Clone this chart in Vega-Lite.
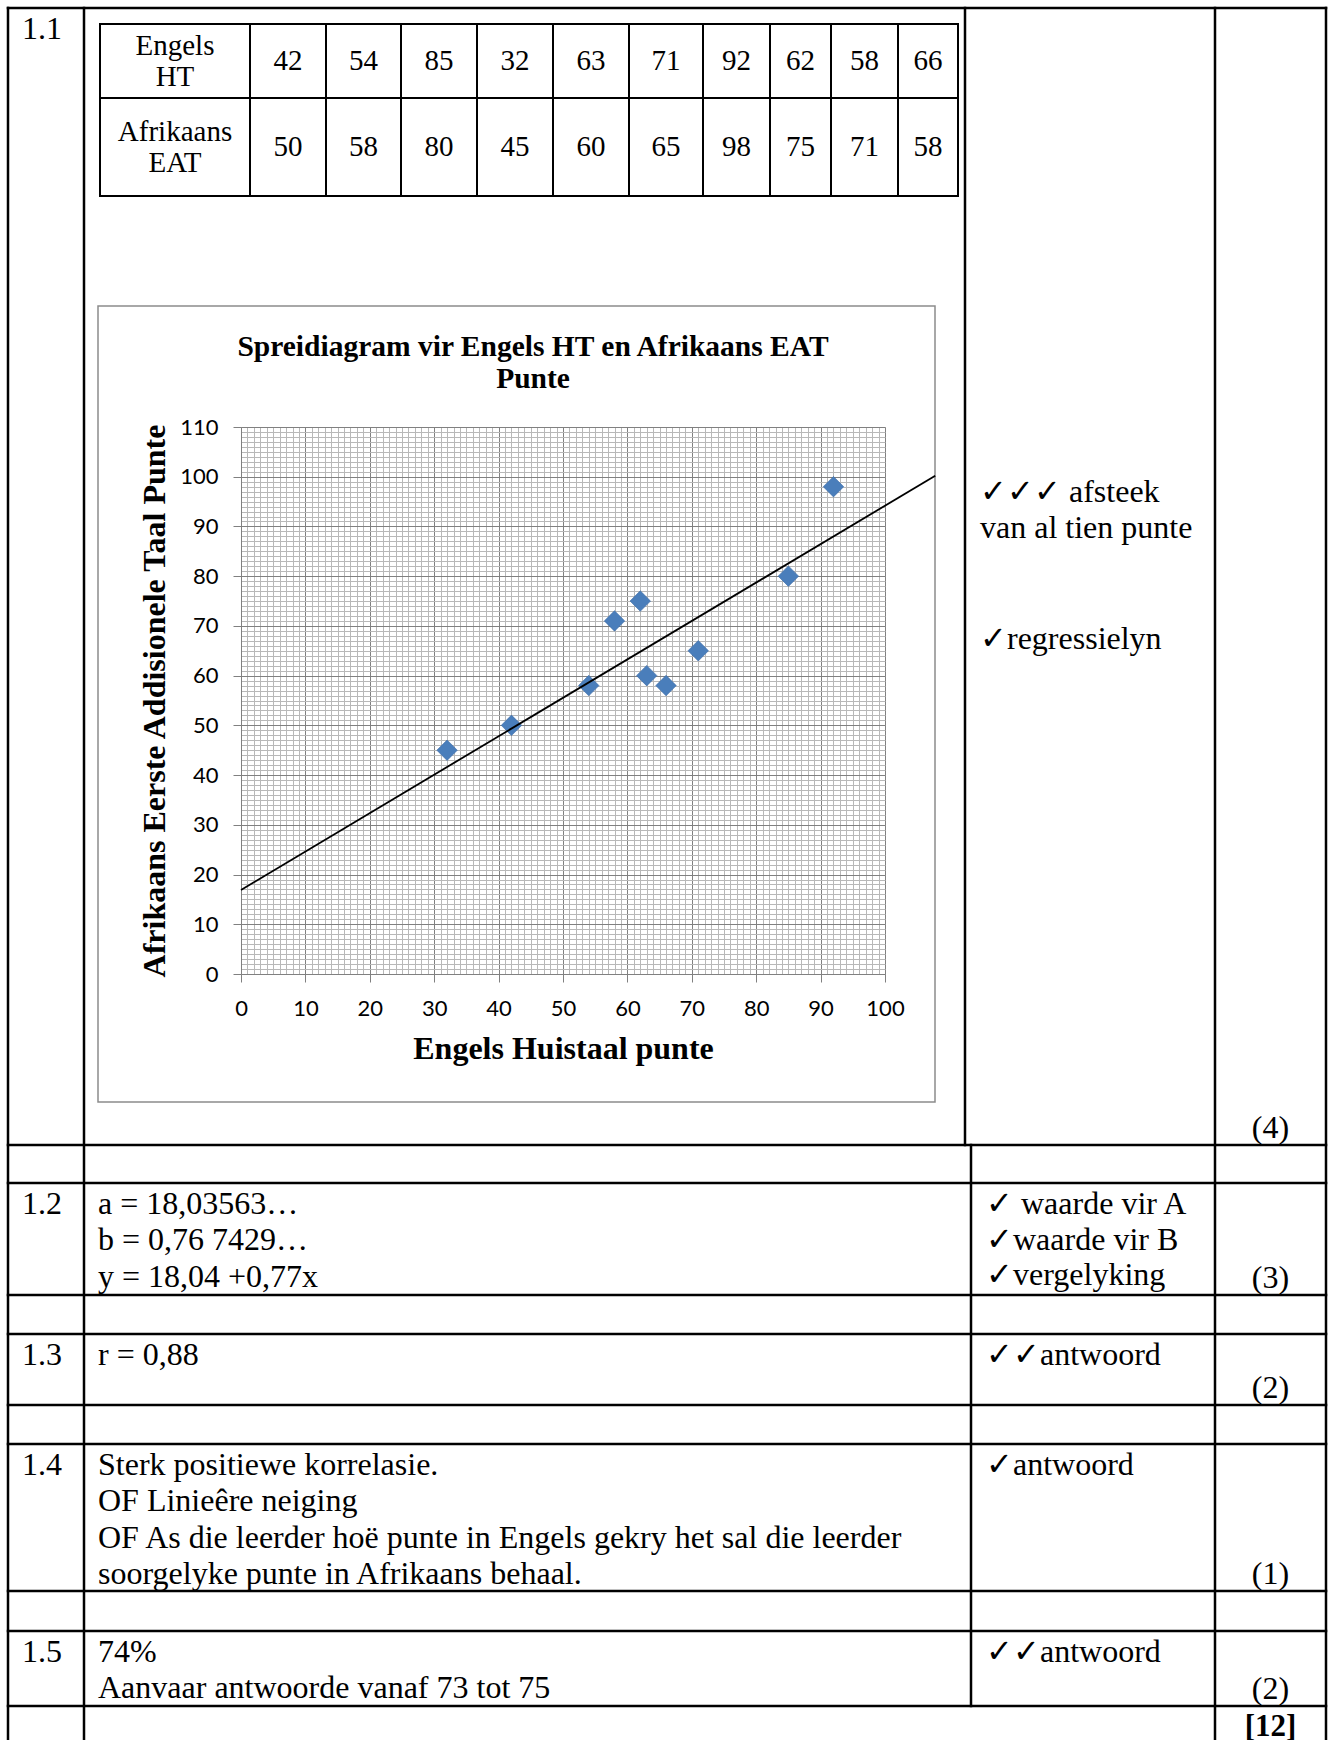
{
  "$schema": "https://vega.github.io/schema/vega-lite/v6.json",
  "width": 1328,
  "height": 1740,
  "autosize": {"type": "none"},
  "padding": 0,
  "background": "white",
  "config": {"view": {"stroke": null}},
  "datasets": {
    "punte": [
      {"nr": 1, "Engels": 42, "Afrikaans": 50},
      {"nr": 2, "Engels": 54, "Afrikaans": 58},
      {"nr": 3, "Engels": 85, "Afrikaans": 80},
      {"nr": 4, "Engels": 32, "Afrikaans": 45},
      {"nr": 5, "Engels": 63, "Afrikaans": 60},
      {"nr": 6, "Engels": 71, "Afrikaans": 65},
      {"nr": 7, "Engels": 92, "Afrikaans": 98},
      {"nr": 8, "Engels": 62, "Afrikaans": 75},
      {"nr": 9, "Engels": 58, "Afrikaans": 71},
      {"nr": 10, "Engels": 66, "Afrikaans": 58}
    ],
    "lyn": [
      {"Engels": 0, "Afrikaans": 16.9},
      {"Engels": 107.8, "Afrikaans": 100.2}
    ],
    "tabellyne": [
      {"x": 0, "x2": 8, "y": 0, "y2": 0},
      {"x": 0, "x2": 8, "y": 6, "y2": 6},
      {"x": 0, "x2": 8, "y": 7, "y2": 7},
      {"x": 0, "x2": 8, "y": 8, "y2": 8},
      {"x": 0, "x2": 8, "y": 9, "y2": 9},
      {"x": 0, "x2": 8, "y": 10, "y2": 10},
      {"x": 0, "x2": 8, "y": 11, "y2": 11},
      {"x": 0, "x2": 8, "y": 12, "y2": 12},
      {"x": 0, "x2": 8, "y": 13, "y2": 13},
      {"x": 0, "x2": 8, "y": 14, "y2": 14},
      {"x": 0, "x2": 0, "y": 0, "y2": 15},
      {"x": 1, "x2": 1, "y": 0, "y2": 15},
      {"x": 5, "x2": 5, "y": 0, "y2": 6},
      {"x": 6, "x2": 6, "y": 6, "y2": 14},
      {"x": 7, "x2": 7, "y": 0, "y2": 15},
      {"x": 8, "x2": 8, "y": 0, "y2": 15}
    ],
    "kader": [{"x": 2, "x2": 4, "y": 1, "y2": 5}],
    "selle": [
      {"x": 0, "y": 0, "teks": "1.1"},
      {"x": 0, "y": 7, "teks": "1.2"},
      {"x": 1, "y": 7, "teks": "a = 18,03563…\nb = 0,76 7429…\ny = 18,04 +0,77x"},
      {"x": 0, "y": 9, "teks": "1.3"},
      {"x": 1, "y": 9, "teks": "r = 0,88"},
      {"x": 0, "y": 11, "teks": "1.4"},
      {"x": 1, "y": 11, "teks": "Sterk positiewe korrelasie.\nOF  Linieêre neiging\nOF As die leerder hoë punte in Engels gekry het sal die leerder\nsoorgelyke punte in Afrikaans behaal."},
      {"x": 0, "y": 13, "teks": "1.5"},
      {"x": 1, "y": 13, "teks": "74%\nAanvaar antwoorde vanaf 73 tot 75"}
    ],
    "merke": [
      {"x": 5, "y": 3, "teks": "✓✓✓ afsteek\nvan al tien punte"},
      {"x": 5, "y": 4, "teks": "✓regressielyn"},
      {"x": 6, "y": 7, "teks": "✓ waarde vir A\n✓waarde vir B\n✓vergelyking"},
      {"x": 6, "y": 9, "teks": "✓✓antwoord"},
      {"x": 6, "y": 11, "teks": "✓antwoord"},
      {"x": 6, "y": 13, "teks": "✓✓antwoord"}
    ],
    "punttotale": [
      {"y": 6, "teks": "(4)"},
      {"y": 8, "teks": "(3)"},
      {"y": 10, "teks": "(2)"},
      {"y": 12, "teks": "(1)"},
      {"y": 14, "teks": "(2)"}
    ],
    "totaal": [{"y": 14, "teks": "[12]"}],
    "titel": [{"teks": "Spreidiagram vir Engels HT en Afrikaans EAT\nPunte"}],
    "binnelyne": [
      {"x": -0.5, "x2": 10.5, "y": -0.5, "y2": -0.5},
      {"x": -0.5, "x2": 10.5, "y": 0.5, "y2": 0.5},
      {"x": -0.5, "x2": 10.5, "y": 1.5, "y2": 1.5},
      {"x": -0.5, "x2": -0.5, "y": -0.5, "y2": 1.5},
      {"x": 0.5, "x2": 0.5, "y": -0.5, "y2": 1.5},
      {"x": 1.5, "x2": 1.5, "y": -0.5, "y2": 1.5},
      {"x": 2.5, "x2": 2.5, "y": -0.5, "y2": 1.5},
      {"x": 3.5, "x2": 3.5, "y": -0.5, "y2": 1.5},
      {"x": 4.5, "x2": 4.5, "y": -0.5, "y2": 1.5},
      {"x": 5.5, "x2": 5.5, "y": -0.5, "y2": 1.5},
      {"x": 6.5, "x2": 6.5, "y": -0.5, "y2": 1.5},
      {"x": 7.5, "x2": 7.5, "y": -0.5, "y2": 1.5},
      {"x": 8.5, "x2": 8.5, "y": -0.5, "y2": 1.5},
      {"x": 9.5, "x2": 9.5, "y": -0.5, "y2": 1.5},
      {"x": 10.5, "x2": 10.5, "y": -0.5, "y2": 1.5}
    ],
    "opskrifte": [
      {"kol": 0, "ry": 0, "teks": "Engels\nHT"},
      {"kol": 0, "ry": 1, "teks": "Afrikaans\nEAT"}
    ]
  },
  "resolve": {"scale": {"x": "independent", "y": "independent"}},
  "layer": [
    {
      "layer": [
        {
          "data": {"name": "tabellyne"},
          "mark": {"type": "rule", "color": "black", "strokeWidth": 2.5, "strokeCap": "square"},
          "encoding": {
            "x": {"field": "x", "type": "quantitative", "axis": null, "scale": {"type": "linear", "zero": false, "nice": false, "domain": [0, 1, 2, 3, 4, 5, 6, 7, 8], "range": [8, 84, 98, 533, 935, 965, 971, 1215, 1326]}},
            "x2": {"field": "x2"},
            "y": {"field": "y", "type": "quantitative", "axis": null, "scale": {"type": "linear", "zero": false, "nice": false, "domain": [0, 1, 2, 3, 4, 5, 6, 7, 8, 9, 10, 11, 12, 13, 14, 15], "range": [8, 306, 356, 471, 618, 1102, 1145, 1183, 1295, 1334, 1405, 1444, 1591, 1631, 1706, 1790]}},
            "y2": {"field": "y2"}
          }
        },
        {
          "data": {"name": "kader"},
          "mark": {"type": "rect", "fillOpacity": 0, "stroke": "#8c8c8c", "strokeWidth": 1.5},
          "encoding": {
            "x": {"field": "x", "type": "quantitative", "axis": null, "scale": {"type": "linear", "zero": false, "nice": false, "domain": [0, 1, 2, 3, 4, 5, 6, 7, 8], "range": [8, 84, 98, 533, 935, 965, 971, 1215, 1326]}},
            "x2": {"field": "x2"},
            "y": {"field": "y", "type": "quantitative", "axis": null, "scale": {"type": "linear", "zero": false, "nice": false, "domain": [0, 1, 2, 3, 4, 5, 6, 7, 8, 9, 10, 11, 12, 13, 14, 15], "range": [8, 306, 356, 471, 618, 1102, 1145, 1183, 1295, 1334, 1405, 1444, 1591, 1631, 1706, 1790]}},
            "y2": {"field": "y2"}
          }
        },
        {
          "data": {"name": "selle"},
          "mark": {"type": "text", "font": "Liberation Serif", "fontSize": 32, "color": "black", "align": "left", "baseline": "alphabetic", "dx": 14, "dy": 31, "lineHeight": 36.3, "lineBreak": "\n"},
          "encoding": {
            "x": {"field": "x", "type": "quantitative", "axis": null, "scale": {"type": "linear", "zero": false, "nice": false, "domain": [0, 1, 2, 3, 4, 5, 6, 7, 8], "range": [8, 84, 98, 533, 935, 965, 971, 1215, 1326]}},
            "y": {"field": "y", "type": "quantitative", "axis": null, "scale": {"type": "linear", "zero": false, "nice": false, "domain": [0, 1, 2, 3, 4, 5, 6, 7, 8, 9, 10, 11, 12, 13, 14, 15], "range": [8, 306, 356, 471, 618, 1102, 1145, 1183, 1295, 1334, 1405, 1444, 1591, 1631, 1706, 1790]}},
            "text": {"field": "teks"}
          }
        },
        {
          "data": {"name": "merke"},
          "mark": {"type": "text", "font": "Liberation Serif", "fontSize": 32, "color": "black", "align": "left", "baseline": "alphabetic", "dx": 15, "dy": 31, "lineHeight": 35.5, "lineBreak": "\n"},
          "encoding": {
            "x": {"field": "x", "type": "quantitative", "axis": null, "scale": {"type": "linear", "zero": false, "nice": false, "domain": [0, 1, 2, 3, 4, 5, 6, 7, 8], "range": [8, 84, 98, 533, 935, 965, 971, 1215, 1326]}},
            "y": {"field": "y", "type": "quantitative", "axis": null, "scale": {"type": "linear", "zero": false, "nice": false, "domain": [0, 1, 2, 3, 4, 5, 6, 7, 8, 9, 10, 11, 12, 13, 14, 15], "range": [8, 306, 356, 471, 618, 1102, 1145, 1183, 1295, 1334, 1405, 1444, 1591, 1631, 1706, 1790]}},
            "text": {"field": "teks"}
          }
        },
        {
          "data": {"name": "punttotale"},
          "mark": {"type": "text", "font": "Liberation Serif", "fontSize": 32, "color": "black", "align": "center", "baseline": "alphabetic", "dy": -7},
          "encoding": {
            "x": {"datum": 7.5, "type": "quantitative", "axis": null, "scale": {"type": "linear", "zero": false, "nice": false, "domain": [0, 1, 2, 3, 4, 5, 6, 7, 8], "range": [8, 84, 98, 533, 935, 965, 971, 1215, 1326]}},
            "y": {"field": "y", "type": "quantitative", "axis": null, "scale": {"type": "linear", "zero": false, "nice": false, "domain": [0, 1, 2, 3, 4, 5, 6, 7, 8, 9, 10, 11, 12, 13, 14, 15], "range": [8, 306, 356, 471, 618, 1102, 1145, 1183, 1295, 1334, 1405, 1444, 1591, 1631, 1706, 1790]}},
            "text": {"field": "teks"}
          }
        },
        {
          "data": {"name": "totaal"},
          "mark": {"type": "text", "font": "Liberation Serif", "fontSize": 31, "fontWeight": "bold", "color": "black", "align": "center", "baseline": "alphabetic", "dy": 30},
          "encoding": {
            "x": {"datum": 7.5, "type": "quantitative", "axis": null, "scale": {"type": "linear", "zero": false, "nice": false, "domain": [0, 1, 2, 3, 4, 5, 6, 7, 8], "range": [8, 84, 98, 533, 935, 965, 971, 1215, 1326]}},
            "y": {"field": "y", "type": "quantitative", "axis": null, "scale": {"type": "linear", "zero": false, "nice": false, "domain": [0, 1, 2, 3, 4, 5, 6, 7, 8, 9, 10, 11, 12, 13, 14, 15], "range": [8, 306, 356, 471, 618, 1102, 1145, 1183, 1295, 1334, 1405, 1444, 1591, 1631, 1706, 1790]}},
            "text": {"field": "teks"}
          }
        },
        {
          "data": {"name": "titel"},
          "mark": {"type": "text", "font": "Liberation Serif", "fontSize": 29.5, "fontWeight": "bold", "color": "black", "align": "center", "baseline": "alphabetic", "lineHeight": 32, "lineBreak": "\n"},
          "encoding": {
            "x": {"datum": 3, "type": "quantitative", "axis": null, "scale": {"type": "linear", "zero": false, "nice": false, "domain": [0, 1, 2, 3, 4, 5, 6, 7, 8], "range": [8, 84, 98, 533, 935, 965, 971, 1215, 1326]}},
            "y": {"datum": 2, "type": "quantitative", "axis": null, "scale": {"type": "linear", "zero": false, "nice": false, "domain": [0, 1, 2, 3, 4, 5, 6, 7, 8, 9, 10, 11, 12, 13, 14, 15], "range": [8, 306, 356, 471, 618, 1102, 1145, 1183, 1295, 1334, 1405, 1444, 1591, 1631, 1706, 1790]}},
            "text": {"field": "teks"}
          }
        }
      ]
    },
    {
      "layer": [
        {
          "data": {"name": "binnelyne"},
          "mark": {"type": "rule", "color": "black", "strokeWidth": 2, "strokeCap": "square"},
          "encoding": {
            "x": {"field": "x", "type": "quantitative", "axis": null, "scale": {"type": "linear", "zero": false, "nice": false, "domain": [-0.5, 0.5, 1.5, 2.5, 3.5, 4.5, 5.5, 6.5, 7.5, 8.5, 9.5, 10.5], "range": [100, 250, 326, 401, 477, 553, 629, 703, 770, 831, 898, 958]}},
            "x2": {"field": "x2"},
            "y": {"field": "y", "type": "quantitative", "axis": null, "scale": {"type": "linear", "zero": false, "nice": false, "domain": [-0.5, 0.5, 1.5], "range": [24, 98, 196]}},
            "y2": {"field": "y2"}
          }
        },
        {
          "data": {"name": "opskrifte"},
          "mark": {"type": "text", "font": "Liberation Serif", "fontSize": 29, "color": "black", "align": "center", "baseline": "middle", "dy": -15.5, "lineHeight": 31, "lineBreak": "\n"},
          "encoding": {
            "x": {"field": "kol", "type": "quantitative", "axis": null, "scale": {"type": "linear", "zero": false, "nice": false, "domain": [-0.5, 0.5, 1.5, 2.5, 3.5, 4.5, 5.5, 6.5, 7.5, 8.5, 9.5, 10.5], "range": [100, 250, 326, 401, 477, 553, 629, 703, 770, 831, 898, 958]}},
            "y": {"field": "ry", "type": "quantitative", "axis": null, "scale": {"type": "linear", "zero": false, "nice": false, "domain": [-0.5, 0.5, 1.5], "range": [24, 98, 196]}},
            "text": {"field": "teks"}
          }
        },
        {
          "data": {"name": "punte"},
          "mark": {"type": "text", "font": "Liberation Serif", "fontSize": 29, "color": "black", "align": "center", "baseline": "middle"},
          "encoding": {
            "x": {"field": "nr", "type": "quantitative", "axis": null, "scale": {"type": "linear", "zero": false, "nice": false, "domain": [-0.5, 0.5, 1.5, 2.5, 3.5, 4.5, 5.5, 6.5, 7.5, 8.5, 9.5, 10.5], "range": [100, 250, 326, 401, 477, 553, 629, 703, 770, 831, 898, 958]}},
            "y": {"datum": 0, "type": "quantitative", "axis": null, "scale": {"type": "linear", "zero": false, "nice": false, "domain": [-0.5, 0.5, 1.5], "range": [24, 98, 196]}},
            "text": {"field": "Engels", "type": "quantitative"}
          }
        },
        {
          "data": {"name": "punte"},
          "mark": {"type": "text", "font": "Liberation Serif", "fontSize": 29, "color": "black", "align": "center", "baseline": "middle"},
          "encoding": {
            "x": {"field": "nr", "type": "quantitative", "axis": null, "scale": {"type": "linear", "zero": false, "nice": false, "domain": [-0.5, 0.5, 1.5, 2.5, 3.5, 4.5, 5.5, 6.5, 7.5, 8.5, 9.5, 10.5], "range": [100, 250, 326, 401, 477, 553, 629, 703, 770, 831, 898, 958]}},
            "y": {"datum": 1, "type": "quantitative", "axis": null, "scale": {"type": "linear", "zero": false, "nice": false, "domain": [-0.5, 0.5, 1.5], "range": [24, 98, 196]}},
            "text": {"field": "Afrikaans", "type": "quantitative"}
          }
        }
      ]
    },
    {
      "data": {"name": "punte"},
      "mark": {"type": "point", "opacity": 0},
      "encoding": {
        "x": {"field": "Engels", "type": "quantitative", "scale": {"domain": [0, 100], "range": [241, 885], "zero": false, "nice": false},
          "axis": {"orient": "top", "grid": true, "gridColor": "#b8b8b8", "gridWidth": 1, "tickCount": 100, "labels": false, "ticks": false, "domain": false, "title": null}},
        "y": {"field": "Afrikaans", "type": "quantitative", "scale": {"domain": [0, 110], "range": [974, 427], "zero": false, "nice": false},
          "axis": {"orient": "left", "grid": true, "gridColor": "#b8b8b8", "gridWidth": 1, "tickCount": 110, "labels": false, "ticks": false, "domain": false, "title": null}}
      }
    },
    {
      "data": {"name": "punte"},
      "mark": {"type": "point", "opacity": 0},
      "encoding": {
        "x": {"field": "Engels", "type": "quantitative", "scale": {"domain": [0, 100], "range": [241, 885], "zero": false, "nice": false},
          "axis": {"orient": "top", "grid": true, "gridColor": "#808080", "gridWidth": 1, "values": [0, 10, 20, 30, 40, 50, 60, 70, 80, 90, 100], "labels": false, "ticks": false, "domain": false, "title": null}},
        "y": {"field": "Afrikaans", "type": "quantitative", "scale": {"domain": [0, 110], "range": [974, 427], "zero": false, "nice": false},
          "axis": {"orient": "left", "grid": true, "gridColor": "#808080", "gridWidth": 1, "values": [0, 10, 20, 30, 40, 50, 60, 70, 80, 90, 100, 110], "labels": false, "ticks": false, "domain": false, "title": null}}
      }
    },
    {
      "layer": [
        {
          "data": {"name": "punte"},
          "mark": {"type": "point", "shape": "diamond", "filled": true, "size": 420, "color": "#4a7ebb", "opacity": 1, "stroke": "#3d6ca6", "strokeWidth": 0.6},
          "encoding": {
            "x": {"field": "Engels", "type": "quantitative", "scale": {"domain": [0, 100], "range": [241, 885], "zero": false, "nice": false},
              "axis": {"orient": "bottom", "offset": -766, "grid": false, "values": [0, 10, 20, 30, 40, 50, 60, 70, 80, 90, 100], "tickSize": 8, "tickColor": "#808080", "domainColor": "#808080", "labelFont": "Lato", "labelFontSize": 22, "labelColor": "black", "labelPadding": 16, "labelFlush": false, "title": "Engels Huistaal punte", "titleFont": "Liberation Serif", "titleFontSize": 32, "titleFontWeight": "bold", "titleColor": "black", "titlePadding": 14}},
            "y": {"field": "Afrikaans", "type": "quantitative", "scale": {"domain": [0, 110], "range": [974, 427], "zero": false, "nice": false},
              "axis": {"orient": "left", "offset": -241, "grid": false, "values": [0, 10, 20, 30, 40, 50, 60, 70, 80, 90, 100, 110], "tickSize": 8, "tickColor": "#808080", "domainColor": "#808080", "labelFont": "Lato", "labelFontSize": 22, "labelColor": "black", "labelPadding": 15, "labelFlush": false, "title": "Afrikaans Eerste Addisionele Taal Punte", "titleFont": "Liberation Serif", "titleFontSize": 32, "titleFontWeight": "bold", "titleColor": "black", "titlePadding": 8}}
          }
        },
        {
          "data": {"name": "lyn"},
          "mark": {"type": "line", "color": "black", "strokeWidth": 1.8, "clip": false},
          "encoding": {
            "x": {"field": "Engels", "type": "quantitative", "scale": {"domain": [0, 100], "range": [241, 885], "zero": false, "nice": false}},
            "y": {"field": "Afrikaans", "type": "quantitative", "scale": {"domain": [0, 110], "range": [974, 427], "zero": false, "nice": false}}
          }
        }
      ]
    }
  ]
}
